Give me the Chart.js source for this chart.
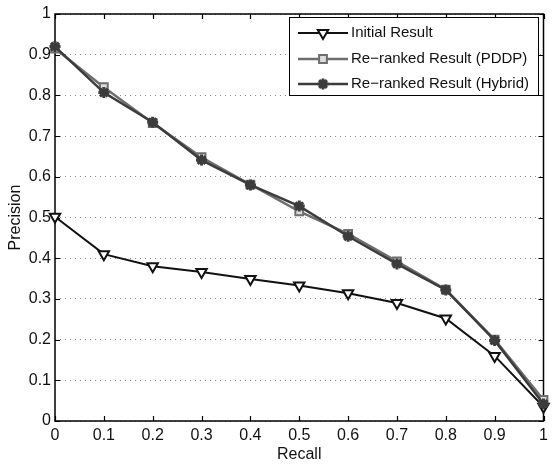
<!DOCTYPE html>
<html>
<head>
<meta charset="utf-8">
<script src="https://cdn.jsdelivr.net/npm/chart.js@4.4.1/dist/chart.umd.min.js"></script>
<style>
  html, body { margin: 0; padding: 0; background: #fff; }
  #wrap { width: 552px; height: 464px; }
</style>
</head>
<body>
<div id="wrap"><canvas id="prChart" width="552" height="464"></canvas></div>
<script>
// recall levels (x) and precision per method (y)
const recall = [0, 0.1, 0.2, 0.3, 0.4, 0.5, 0.6, 0.7, 0.8, 0.9, 1];
const initialResult = [0.502, 0.41, 0.38, 0.366, 0.349, 0.333, 0.314, 0.29, 0.252, 0.16, 0.035];
const pddpResult = [0.915, 0.82, 0.732, 0.648, 0.581, 0.515, 0.46, 0.392, 0.323, 0.2, 0.052];
const hybridResult = [0.92, 0.807, 0.734, 0.641, 0.58, 0.528, 0.454, 0.386, 0.322, 0.198, 0.042];
const seriesNames = ['Initial Result', 'Re\u2212ranked Result (PDDP)', 'Re\u2212ranked Result (Hybrid)'];
const xTickValues = [0, 0.1, 0.2, 0.3, 0.4, 0.5, 0.6, 0.7, 0.8, 0.9, 1];
const yTickValues = [0, 0.1, 0.2, 0.3, 0.4, 0.5, 0.6, 0.7, 0.8, 0.9, 1];
const xTickLabels = ['0', '0.1', '0.2', '0.3', '0.4', '0.5', '0.6', '0.7', '0.8', '0.9', '1'];
const yTickLabels = ['0', '0.1', '0.2', '0.3', '0.4', '0.5', '0.6', '0.7', '0.8', '0.9', '1'];

const FONT = 'Liberation Sans, Arial, sans-serif';

function toPoints(values) {
    return values.map((v, i) => ({ x: recall[i], y: v }));
}

const datasets = [
    {
        label: seriesNames[0], data: toPoints(initialResult),
        borderColor: '#111', borderWidth: 2,
        pointStyle: 'triangle', pointRotation: 180, pointRadius: 6,
        pointBackgroundColor: '#fff', pointBorderColor: '#111', pointBorderWidth: 2,
        order: 3
    },
    {
        label: seriesNames[1], data: toPoints(pddpResult),
        borderColor: '#6e6e6e', borderWidth: 2.5,
        pointStyle: 'rect', pointRadius: 5.5,
        pointBackgroundColor: '#ddd', pointBorderColor: '#6e6e6e', pointBorderWidth: 2,
        order: 2
    },
    {
        label: seriesNames[2], data: toPoints(hybridResult),
        borderColor: '#3c3c3c', borderWidth: 2.5,
        pointStyle: 'star', pointRadius: 5.5,
        pointBackgroundColor: '#3c3c3c', pointBorderColor: '#3c3c3c', pointBorderWidth: 3,
        order: 1
    }
];
datasets.forEach(d => { d.tension = 0; d.clip = false; d.fill = false; });

// box around the axes, inward ticks, x tick labels, and a boxed legend with line + marker
const framePlugin = {
    id: 'frame',
    beforeDatasetsDraw(chart) {
        const { ctx, chartArea: a, scales: { x, y } } = chart;
        ctx.save();
        ctx.strokeStyle = '#000';
        ctx.lineWidth = 1.5;
        ctx.strokeRect(a.left, a.top, a.right - a.left, a.bottom - a.top);
        ctx.lineWidth = 1.2;
        ctx.beginPath();
        xTickValues.forEach(v => {
            const px = Math.round(x.getPixelForValue(v)) + 0.5;
            ctx.moveTo(px, a.bottom); ctx.lineTo(px, a.bottom - 5);
            ctx.moveTo(px, a.top); ctx.lineTo(px, a.top + 5);
        });
        yTickValues.forEach(v => {
            const py = Math.round(y.getPixelForValue(v)) + 0.5;
            ctx.moveTo(a.left, py); ctx.lineTo(a.left + 5, py);
            ctx.moveTo(a.right, py); ctx.lineTo(a.right - 5, py);
        });
        ctx.stroke();

        // x tick labels (drawn here so they don't squeeze the plot area)
        ctx.fillStyle = '#111';
        ctx.font = '16px ' + FONT;
        ctx.textAlign = 'center';
        ctx.textBaseline = 'middle';
        xTickValues.forEach((v, i) => {
            ctx.fillText(xTickLabels[i], x.getPixelForValue(v), a.bottom + 15);
        });
        ctx.restore();
    },
    afterDraw(chart) {
        const ctx = chart.ctx;
        const box = { left: 289.5, top: 17.5, width: 249, height: 78 };
        ctx.save();
        ctx.fillStyle = '#fff';
        ctx.fillRect(box.left, box.top, box.width, box.height);
        ctx.strokeStyle = '#000';
        ctx.lineWidth = 1;
        ctx.strokeRect(box.left, box.top, box.width, box.height);
        ctx.font = '15px ' + FONT;
        ctx.textBaseline = 'middle';
        ctx.textAlign = 'left';
        const rowY = [33, 59, 84];
        chart.data.datasets.forEach((ds, i) => {
            const yy = rowY[i];
            ctx.strokeStyle = ds.borderColor;
            ctx.lineWidth = ds.borderWidth;
            ctx.beginPath();
            ctx.moveTo(298, yy); ctx.lineTo(348, yy);
            ctx.stroke();
            ctx.fillStyle = ds.pointBackgroundColor;
            ctx.strokeStyle = ds.pointBorderColor;
            ctx.lineWidth = ds.pointBorderWidth;
            Chart.helpers.drawPoint(ctx, {
                pointStyle: ds.pointStyle, rotation: ds.pointRotation || 0,
                radius: ds.pointRadius, borderWidth: ds.pointBorderWidth
            }, 323, yy);
            ctx.fillStyle = '#111';
            ctx.fillText(ds.label, 351, yy);
        });
        ctx.restore();
    }
};

new Chart(document.getElementById('prChart'), {
    type: 'line',
    data: { datasets },
    options: {
        responsive: false,
        animation: false,
        layout: { padding: { top: 14, right: 4, left: 0, bottom: 0 } },
        plugins: { legend: { display: false }, tooltip: { enabled: false } },
        scales: {
            x: {
                type: 'linear', min: 0, max: 1,
                afterFit: s => { s.height = 43; },
                grid: { display: false, drawTicks: false },
                border: { display: false },
                ticks: { display: false, stepSize: 0.1 },
                title: {
                    display: true, text: 'Recall', color: '#111',
                    font: { family: FONT, size: 16 }, padding: { top: 0, bottom: 0 }
                }
            },
            y: {
                type: 'linear', min: 0, max: 1,
                afterFit: s => { s.width = 55; },
                grid: { color: '#888', lineWidth: 1, drawTicks: false },
                border: { display: false, dash: [1, 4] },
                ticks: {
                    stepSize: 0.1, padding: 4, color: '#111',
                    font: { family: FONT, size: 16 },
                    callback: (v, i) => yTickLabels[i]
                },
                title: {
                    display: true, text: 'Precision', color: '#111',
                    font: { family: FONT, size: 16 }, padding: { top: 6, bottom: 0 }
                }
            }
        }
    },
    plugins: [framePlugin]
});
</script>
</body>
</html>
